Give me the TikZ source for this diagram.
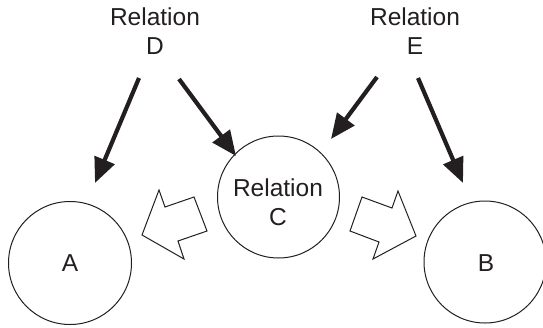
\documentclass[tikz,border=0pt]{standalone}
\usepackage{fontspec}
\setmainfont{Liberation Sans}
\usetikzlibrary{arrows.meta}
\definecolor{ink}{RGB}{35,31,32}
\begin{document}
\begin{tikzpicture}[x=1pt,y=-1pt,
  lbl/.style={font=\fontsize{24.5}{29}\selectfont, align=center, inner sep=0pt, text=ink},
  rel/.style={draw=ink, circle, line width=1pt, inner sep=0pt},
  heavy/.style={draw=ink, line width=4.2pt, -{Triangle[length=25pt,width=21pt]}},
  hollow/.style={draw=ink, line width=1pt, line join=miter, fill=white}]
\useasboundingbox (0,0) rectangle (543,327);
\node[rel, minimum size=123pt] (A) at (70,263) {};
\node[lbl] (Atxt) at (70,263) {A};
\node[rel, minimum size=122pt] (B) at (485,262) {};
\node[lbl] (Btxt) at (486,263) {B};
\node[rel, minimum size=122pt] (C) at (278.5,197) {};
\node[lbl] (Ctxt) at (278,202) {Relation\\C};
\node[lbl] (D) at (155,31.5) {Relation\\D};
\node[lbl] (E) at (415,31.5) {Relation\\E};
\coordinate (d1s) at (139,78); \coordinate (d1e) at (95,183);
\coordinate (d2s) at (179,79); \coordinate (d2e) at (236,156);
\coordinate (e1s) at (377,77); \coordinate (e1e) at (331,139);
\coordinate (e2s) at (418,78); \coordinate (e2e) at (463,183);
\draw[heavy] (d1s) -- (d1e);
\draw[heavy] (d2s) -- (d2e);
\draw[heavy] (e1s) -- (e1e);
\draw[heavy] (e2s) -- (e2e);
\path[hollow] (142,235) -- (159,190) -- (165,207) -- (194,197) -- (207,231) -- (178,241) -- (184,259) -- cycle;
\path[hollow] (416,236) -- (398,191) -- (392,208) -- (362,197) -- (350,231) -- (379,242) -- (373,259) -- cycle;
\end{tikzpicture}
\end{document}
